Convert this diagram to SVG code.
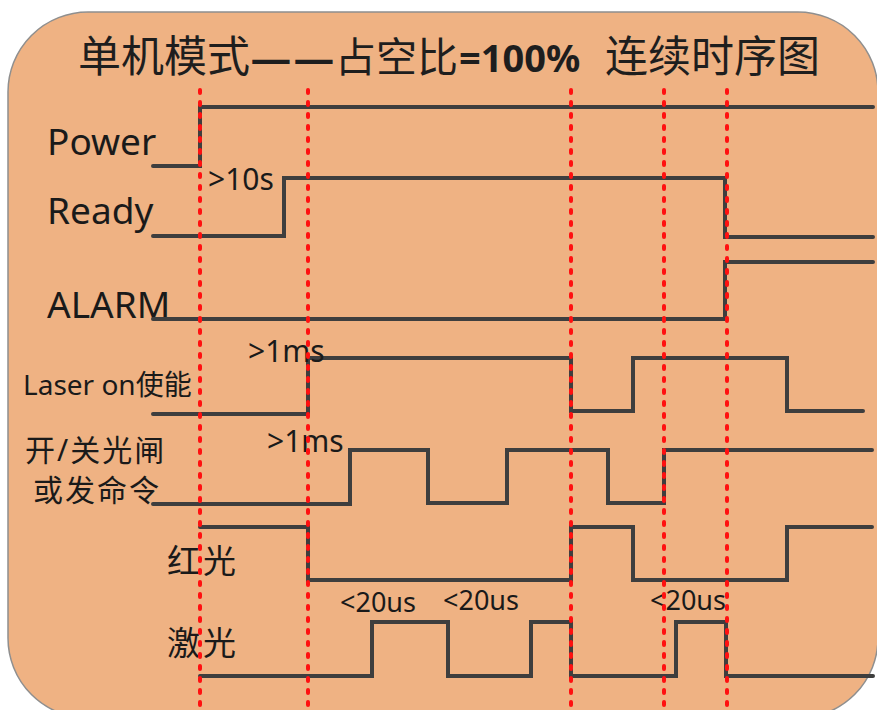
<svg xmlns="http://www.w3.org/2000/svg" width="877" height="710" viewBox="0 0 877 710">
<style>
.bg{fill:#EFB283;stroke:#8f8f8f;stroke-width:1.5}
.t{font-family:"Noto Sans CJK SC","Noto Sans",sans-serif;fill:#1e1e1e}
.lbl{font-family:"Noto Sans","Noto Sans CJK SC",sans-serif;fill:#1a1a1a}
.w{fill:none;stroke:#3e3e3e;stroke-width:4;stroke-linecap:round;stroke-linejoin:miter}
.g{fill:none;stroke:#FF1010;stroke-width:4;stroke-dasharray:3 9;stroke-linecap:round}
</style>
<rect x="0" y="0" width="877" height="710" fill="#ffffff"/>
<rect class="bg" x="8" y="12" width="870" height="706" rx="80" ry="80"/>
<g id="title">
<text class="t" y="72" font-size="43"><tspan x="78">单机模式</tspan><tspan x="335" font-size="41">占空比</tspan><tspan x="459" font-family="Noto Sans, sans-serif" font-size="38" font-weight="bold">=100%</tspan><tspan x="605">连续时序图</tspan></text>
<text class="t" x="250" y="75" font-size="46" font-weight="bold">—</text>
<text class="t" x="293" y="75" font-size="46" font-weight="bold">—</text>
</g>
<g id="power">
<text class="lbl" x="47" y="155" font-size="37">Power</text>
<polyline class="w" points="153,166 200,166 200,107 873,107"/>
</g>
<g id="ready">
<text class="lbl" x="47" y="224" font-size="37">Ready</text>
<polyline class="w" points="153,236 284,236 284,178 725,178 725,237 873,237"/>
<text class="lbl" x="208" y="190" font-size="30">&gt;10s</text>
</g>
<g id="alarm">
<text class="lbl" x="47" y="318" font-size="37">ALARM</text>
<polyline class="w" points="153,319 725,319 725,262 873,262"/>
</g>
<g id="laser-on">
<text class="lbl" x="23" y="395" font-size="28">Laser on使能</text>
<polyline class="w" points="153,414 308,414 308,358 571,358 571,411 633,411 633,358 787,358 787,411 863,411"/>
<text class="lbl" x="248" y="362" font-size="30">&gt;1ms</text>
</g>
<g id="shutter">
<text class="lbl" x="25" y="461" font-size="30" letter-spacing="2">开/关光闸</text>
<text class="lbl" x="33" y="501" font-size="30" letter-spacing="2">或发命令</text>
<polyline class="w" points="153,504 350,504 350,450 428,450 428,503 507,503 507,450 608,450 608,503 664,503 664,450 872,450"/>
<text class="lbl" x="267" y="452" font-size="30">&gt;1ms</text>
</g>
<g id="red-light">
<text class="lbl" x="167" y="573" font-size="33" letter-spacing="3">红光</text>
<polyline class="w" points="200,527 308,527 308,580 571,580 571,527 633,527 633,580 787,580 787,527 872,527"/>
</g>
<g id="laser">
<text class="lbl" x="167" y="655" font-size="33" letter-spacing="3">激光</text>
<polyline class="w" points="200,676 372,676 372,622 448,622 448,676 531,676 531,622 571,622 571,676 676,676 676,622 726,622 726,676 873,676"/>
<text class="lbl" x="340" y="612" font-size="27">&lt;20us</text>
<text class="lbl" x="443" y="610" font-size="27">&lt;20us</text>
<text class="lbl" x="650" y="610" font-size="27">&lt;20us</text>
</g>
<g id="connectors">
<line class="g" x1="200" y1="90" x2="200" y2="712"/>
<line class="g" x1="308" y1="90" x2="308" y2="712"/>
<line class="g" x1="571" y1="90" x2="571" y2="712"/>
<line class="g" x1="664" y1="90" x2="664" y2="712"/>
<line class="g" x1="727" y1="90" x2="727" y2="712"/>
</g>
</svg>
